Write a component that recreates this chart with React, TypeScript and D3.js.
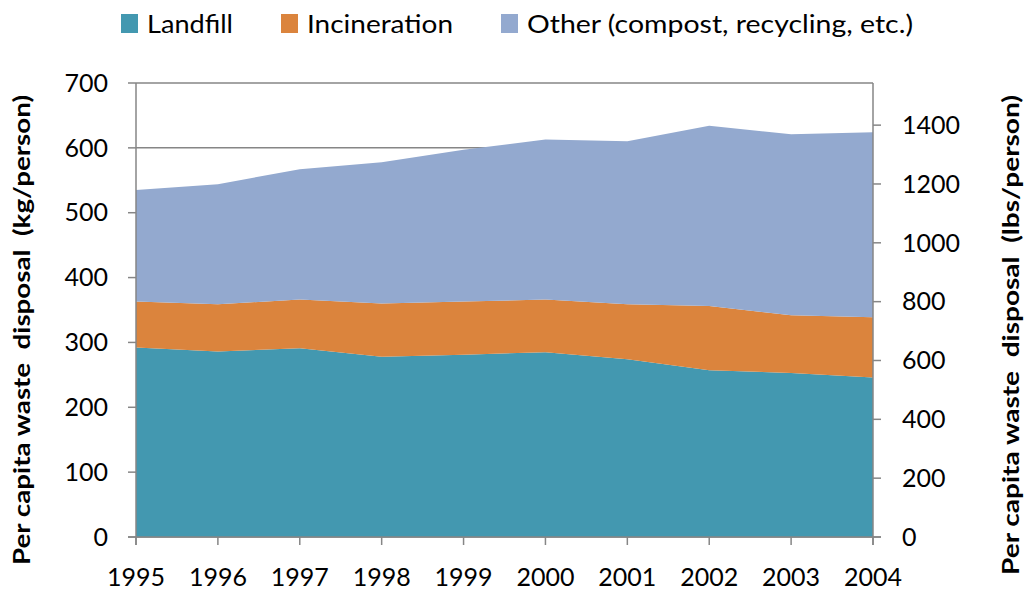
import React from "react";
import * as d3 from "d3";

const years = [1995, 1996, 1997, 1998, 1999, 2000, 2001, 2002, 2003, 2004];
const landfill = [292, 286, 291, 278, 281, 285, 274, 257, 253, 246];
const incineration = [71, 73, 75, 82, 82, 81, 85, 99, 89, 93];
const other = [172, 185, 201, 218, 234, 247, 251, 278, 279, 285];
const seriesNames = ["Landfill", "Incineration", "Other (compost, recycling, etc.)"];
const seriesColors = ["#4398B0", "#DB843D", "#93A9CF"];
const leftTicks = [0, 100, 200, 300, 400, 500, 600, 700];
const rightTicks = [0, 200, 400, 600, 800, 1000, 1200, 1400];
const LBS_PER_KG = 2.20462;

export default function App() {
  const W = 1026, H = 598;
  const left = 136, right = 873, top = 83, bottom = 537;
  const x = d3.scaleLinear().domain([1995, 2004]).range([left, right]);
  const y = d3.scaleLinear().domain([0, 700]).range([bottom, top]);
  const yR = d3.scaleLinear().domain([0, 700 * LBS_PER_KG]).range([bottom, top]);

  const rows = years.map((yr, i) => ({ year: yr, a: landfill[i], b: incineration[i], c: other[i] }));
  const stack = d3.stack<any>().keys(["a", "b", "c"])(rows);
  const area = d3
    .area<any>()
    .x((d) => x(d.data.year))
    .y0((d) => y(d[0]))
    .y1((d) => y(d[1]));

  const font = "Lato, 'Open Sans', sans-serif";
  const legendX = [121, 281, 501];
  const legendTextX = [147, 307, 527];
  const legendTextLen = [86, 146, 386];

  return (
    <svg width={W} height={H} style={{ position: "absolute", left: 0, top: 0, background: "#fff" }} fontFamily={font}>
      {leftTicks.map((t) => (
        <line key={"g" + t} x1={left} x2={right} y1={y(t)} y2={y(t)} stroke="#868686" strokeWidth={1.5} />
      ))}
      {stack.map((s, i) => (
        <path key={i} d={area(s) || ""} fill={seriesColors[i]} />
      ))}
      <line x1={left} x2={left} y1={top} y2={bottom + 8} stroke="#868686" strokeWidth={1.5} />
      <line x1={right} x2={right} y1={top} y2={bottom + 8} stroke="#868686" strokeWidth={1.5} />
      <line x1={left - 8} x2={right + 8} y1={bottom} y2={bottom} stroke="#868686" strokeWidth={1.5} />
      {leftTicks.map((t) => (
        <g key={"l" + t}>
          <line x1={left - 8} x2={left} y1={y(t)} y2={y(t)} stroke="#868686" strokeWidth={1.5} />
          <text x={108} y={y(t)} dy="0.35em" textAnchor="end" fontSize={25} fill="#000">{t}</text>
        </g>
      ))}
      {rightTicks.map((t) => (
        <g key={"r" + t}>
          <line x1={right} x2={right + 8} y1={yR(t)} y2={yR(t)} stroke="#868686" strokeWidth={1.5} />
          <text x={902} y={yR(t)} dy="0.35em" textAnchor="start" fontSize={25} fill="#000">{t}</text>
        </g>
      ))}
      {years.map((yr) => (
        <g key={"x" + yr}>
          <line x1={x(yr)} x2={x(yr)} y1={bottom} y2={bottom + 8} stroke="#868686" strokeWidth={1.5} />
          <text x={x(yr)} y={586} textAnchor="middle" fontSize={25} fill="#000">{yr}</text>
        </g>
      ))}
      <text transform={`translate(30,330) rotate(-90)`} textAnchor="middle" fontSize={23} fontWeight="bold" fill="#000"
        textLength={470} lengthAdjust="spacingAndGlyphs" style={{ whiteSpace: "pre" }}>
        {"Per capita waste  disposal  (kg/person)"}
      </text>
      <text transform={`translate(1019,335) rotate(-90)`} textAnchor="middle" fontSize={23} fontWeight="bold" fill="#000"
        textLength={480} lengthAdjust="spacingAndGlyphs" style={{ whiteSpace: "pre" }}>
        {"Per capita waste  disposal  (lbs/person)"}
      </text>
      {seriesNames.map((n, i) => (
        <g key={n}>
          <rect x={legendX[i]} y={14} width={17} height={19} fill={seriesColors[i]} />
          <text x={legendTextX[i]} y={33} fontSize={25} fill="#000" textLength={legendTextLen[i]} lengthAdjust="spacingAndGlyphs">{n}</text>
        </g>
      ))}
    </svg>
  );
}
